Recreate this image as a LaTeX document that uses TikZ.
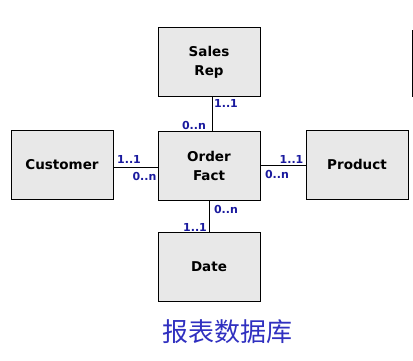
\documentclass[tikz,border=0pt]{standalone}
\usepackage{fontspec}
\setmainfont{DejaVu Sans}
\newfontfamily\cjk{Noto Sans CJK SC}
\definecolor{boxfill}{HTML}{E8E8E8}
\definecolor{lblblue}{HTML}{1A1A9E}
\definecolor{titleblue}{HTML}{3030C0}
\begin{document}
\begin{tikzpicture}[x=1pt,y=-1pt,
  entity/.style={draw=black,line width=1pt,fill=boxfill,minimum width=102pt,minimum height=69pt,
    inner sep=0pt,align=center,font=\fontsize{13.5}{19}\selectfont\bfseries},
  card/.style={text=lblblue,font=\fontsize{11}{12}\selectfont\bfseries,inner sep=0pt},
  link/.style={draw=black,line width=0.8pt}]
\useasboundingbox (0,0) rectangle (413,360);
\node[entity] (sales) at (209,62) {Sales\\Rep};
\node[entity] (order) at (209,166) {Order\\Fact};
\node[entity] (cust) at (62,164.5) {Customer};
\node[entity] (prod) at (357,164.5) {Product};
\node[entity] (date) at (209,267) {Date};
\draw[link] (sales.south -| 212,0) -- (order.north -| 212,0);
\draw[link] (cust.east |- 0,167) -- (order.west |- 0,167);
\draw[link] (order.east |- 0,165) -- (prod.west |- 0,165);
\draw[link] (order.south -| 209,0) -- (date.north -| 209,0);
\node[card] (l1) at (226,103) {1..1};
\node[card] (l2) at (194,125) {0..n};
\node[card] (l3) at (129,159) {1..1};
\node[card] (l4) at (144.5,176) {0..n};
\node[card] (l5) at (291.5,159) {1..1};
\node[card] (l6) at (277,174) {0..n};
\node[card] (l7) at (226,209) {0..n};
\node[card] (l8) at (195,227) {1..1};
\node[text=titleblue,font=\cjk\fontsize{26}{28}\selectfont] (title) at (227,332) {报表数据库};
\coordinate (e1) at (412,30);
\coordinate (e2) at (412,97);
\draw[line width=0.8pt] (e1) -- (e2);
\end{tikzpicture}
\end{document}
